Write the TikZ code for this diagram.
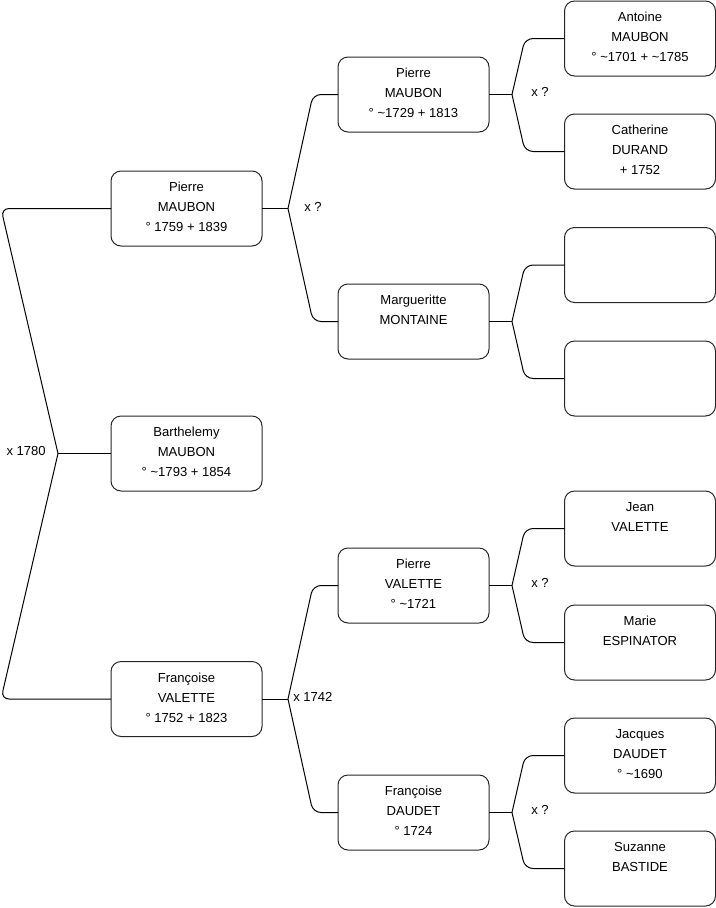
\documentclass[tikz,border=0pt]{standalone}
\usepackage{fontspec}
\setmainfont{Liberation Sans}
\newcommand\pcard[1]{\parbox[c][56.25pt][t]{113.25pt}{\centering\fontsize{9.8}{15}\selectfont\rule{0pt}{15.4pt}#1}}
\begin{document}
\begin{tikzpicture}[x=0.75pt,y=-0.75pt,
  person/.style={draw=black!85,line width=0.75pt,rounded corners=7.5pt,inner sep=0pt,outer sep=0pt},
  link/.style={draw=black,line width=0.75pt,rounded corners=6pt},
  lbl/.style={font=\fontsize{9.8}{11}\selectfont,inner sep=0pt}]
\useasboundingbox (0,0) rectangle (716,908);
% level 1
\node[person] (pm1) at (186.5,208.5) {\pcard{Pierre\\MAUBON\\° 1759 + 1839}};
\node[person] (bar) at (186.5,453.5) {\pcard{Barthelemy\\MAUBON\\° \textasciitilde1793 + 1854}};
\node[person] (fv) at (186.5,699) {\pcard{Françoise\\VALETTE\\° 1752 + 1823}};
% level 2
\node[person] (pm2) at (413.5,94.5) {\pcard{Pierre\\MAUBON\\° \textasciitilde1729 + 1813}};
\node[person] (mm) at (413.5,321.5) {\pcard{Margueritte\\MONTAINE}};
\node[person] (pv) at (413.5,585.5) {\pcard{Pierre\\VALETTE\\° \textasciitilde1721}};
\node[person] (fd) at (413.5,812.5) {\pcard{Françoise\\DAUDET\\° 1724}};
% level 3
\node[person] (am) at (640,38.5) {\pcard{Antoine\\MAUBON\\° \textasciitilde1701 + \textasciitilde1785}};
\node[person] (cd) at (640,151.5) {\pcard{Catherine\\DURAND\\ + 1752}};
\node[person] (b1) at (640,265) {\pcard{}};
\node[person] (b2) at (640,378.5) {\pcard{}};
\node[person] (jv) at (640,528.5) {\pcard{Jean\\VALETTE}};
\node[person] (me) at (640,642.5) {\pcard{Marie\\ESPINATOR}};
\node[person] (jd) at (640,755.5) {\pcard{Jacques\\DAUDET\\° \textasciitilde1690}};
\node[person] (sb) at (640,868.5) {\pcard{Suzanne\\BASTIDE}};
% brackets: #1 parent anchor, #2 tip x, #3 corner x, #4 top child anchor, #5 bottom child anchor, #6 name
\newcommand\famlink[6]{%
  \coordinate (#6-tip) at (#1 -| #2,0);
  \coordinate (#6-c1) at (#4 -| #3,0);
  \coordinate (#6-c2) at (#5 -| #3,0);
  \draw[link] (#1) -- (#6-tip);
  \draw[link] (#6-tip) -- (#6-c1) -- (#4);
  \draw[link] (#6-tip) -- (#6-c2) -- (#5);
}
\famlink{bar.west}{58}{1}{pm1.west}{fv.west}{r}
\famlink{pm1.east}{288}{313}{pm2.west}{mm.west}{a}
\famlink{fv.east}{288}{313}{pv.west}{fd.west}{b}
\famlink{pm2.east}{512}{525}{am.west}{cd.west}{c}
\famlink{mm.east}{512}{525}{b1.west}{b2.west}{d}
\famlink{pv.east}{512}{525}{jv.west}{me.west}{e}
\famlink{fd.east}{512}{525}{jd.west}{sb.west}{f}
% marriage labels
\node[lbl,anchor=east] (lr) at (46,451) {x 1780};
\node[lbl,anchor=west] (la) at (304,207) {x ?};
\node[lbl,anchor=west] (lb) at (293,697) {x 1742};
\node[lbl,anchor=west] (lc) at (531,92) {x ?};
\node[lbl,anchor=west] (le) at (531,583) {x ?};
\node[lbl,anchor=west] (lf) at (531,810) {x ?};
\end{tikzpicture}
\end{document}
